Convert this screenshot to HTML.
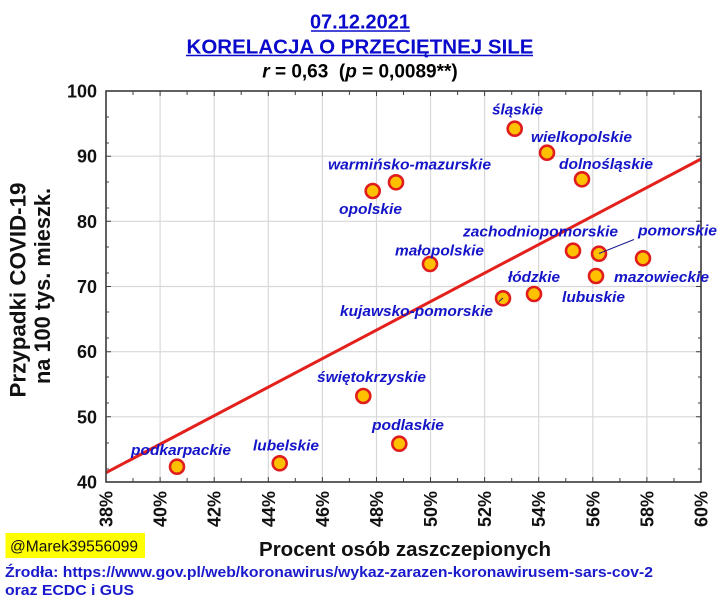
<!DOCTYPE html>
<html><head><meta charset="utf-8"><style>
html,body{margin:0;padding:0;background:#fff;}
svg{display:block;}
text{font-family:"Liberation Sans",Arial,sans-serif;}
</style></head><body>
<svg width="720" height="608" viewBox="0 0 720 608" xmlns="http://www.w3.org/2000/svg">
<rect width="720" height="608" fill="#fff"/>
<!-- Title -->
<text x="360" y="28.5" text-anchor="middle" font-size="20" font-weight="bold" fill="#0a0acc">07.12.2021</text>
<line x1="311" y1="31" x2="410" y2="31" stroke="#0a0acc" stroke-width="1.6"/>
<text x="360" y="53.5" text-anchor="middle" font-size="20" font-weight="bold" fill="#0a0acc" textLength="347" lengthAdjust="spacingAndGlyphs">KORELACJA O PRZECIĘTNEJ SILE</text>
<line x1="186" y1="55.5" x2="533" y2="55.5" stroke="#0a0acc" stroke-width="1.6"/>
<text x="360" y="77.5" text-anchor="middle" font-size="19" font-weight="bold" fill="#000"><tspan font-style="italic">r</tspan> = 0,63 &#160;(<tspan font-style="italic">p</tspan> = 0,0089**)</text>

<!-- grid -->
<g stroke="#d8d8d8" stroke-width="1.2">
<line x1="160.1" y1="91" x2="160.1" y2="482"/>
<line x1="214.2" y1="91" x2="214.2" y2="482"/>
<line x1="268.3" y1="91" x2="268.3" y2="482"/>
<line x1="322.4" y1="91" x2="322.4" y2="482"/>
<line x1="376.5" y1="91" x2="376.5" y2="482"/>
<line x1="430.5" y1="91" x2="430.5" y2="482"/>
<line x1="484.6" y1="91" x2="484.6" y2="482"/>
<line x1="538.7" y1="91" x2="538.7" y2="482"/>
<line x1="592.8" y1="91" x2="592.8" y2="482"/>
<line x1="646.9" y1="91" x2="646.9" y2="482"/>
<line x1="106" y1="156.2" x2="701" y2="156.2"/>
<line x1="106" y1="221.3" x2="701" y2="221.3"/>
<line x1="106" y1="286.5" x2="701" y2="286.5"/>
<line x1="106" y1="351.7" x2="701" y2="351.7"/>
<line x1="106" y1="416.8" x2="701" y2="416.8"/>
</g>

<!-- minor ticks -->
<g stroke="#404040" stroke-width="1">
<path d="M133 482v-4M187.1 482v-4M241.2 482v-4M295.3 482v-4M349.4 482v-4M403.5 482v-4M457.6 482v-4M511.7 482v-4M565.8 482v-4M619.9 482v-4M674 482v-4"/>
<path d="M133 91v4M187.1 91v4M241.2 91v4M295.3 91v4M349.4 91v4M403.5 91v4M457.6 91v4M511.7 91v4M565.8 91v4M619.9 91v4M674 91v4"/>
<path d="M160.1 482v-5M214.2 482v-5M268.3 482v-5M322.4 482v-5M376.5 482v-5M430.5 482v-5M484.6 482v-5M538.7 482v-5M592.8 482v-5M646.9 482v-5"/>
<path d="M160.1 91v5M214.2 91v5M268.3 91v5M322.4 91v5M376.5 91v5M430.5 91v5M484.6 91v5M538.7 91v5M592.8 91v5M646.9 91v5"/>
<path d="M106 117h3M106 143h3M106 182h3M106 208h3M106 247h3M106 273h3M106 312h3M106 338h3M106 377h3M106 403h3M106 443h3M106 469h3"/>
<path d="M701 117h-3M701 143h-3M701 182h-3M701 208h-3M701 247h-3M701 273h-3M701 312h-3M701 338h-3M701 377h-3M701 403h-3M701 443h-3M701 469h-3"/>
<path d="M106 156.2h5M106 221.3h5M106 286.5h5M106 351.7h5M106 416.8h5M701 156.2h-5M701 221.3h-5M701 286.5h-5M701 351.7h-5M701 416.8h-5"/>
</g>

<!-- regression line -->
<line x1="106" y1="472.7" x2="701" y2="159" stroke="#e3201c" stroke-width="3"/>

<!-- frame -->
<rect x="106" y="91" width="595" height="391" fill="none" stroke="#3a3a3a" stroke-width="1.6"/>

<!-- pointer lines -->
<line x1="599" y1="253.5" x2="634" y2="239.5" stroke="#1a1a90" stroke-width="1"/>
<line x1="503" y1="298" x2="497.5" y2="302.5" stroke="#202060" stroke-width="1"/>

<!-- points -->
<g fill="#ffc000" stroke="#e01c1c" stroke-width="2.6">
<circle cx="177" cy="466.7" r="7"/>
<circle cx="279.7" cy="463.3" r="7"/>
<circle cx="363.3" cy="396" r="7"/>
<circle cx="399.3" cy="443.7" r="7"/>
<circle cx="372.7" cy="191" r="7"/>
<circle cx="396" cy="182.3" r="7"/>
<circle cx="430" cy="264" r="7"/>
<circle cx="503" cy="298.3" r="7"/>
<circle cx="534" cy="294" r="7"/>
<circle cx="514.7" cy="128.7" r="7"/>
<circle cx="547" cy="152.7" r="7"/>
<circle cx="582" cy="179.3" r="7"/>
<circle cx="573" cy="250.7" r="7"/>
<circle cx="599" cy="253.7" r="7"/>
<circle cx="596" cy="276" r="7"/>
<circle cx="643" cy="258.3" r="7"/>
</g>
<line x1="599" y1="253.5" x2="606" y2="250.7" stroke="#1a1a90" stroke-width="1"/>
<line x1="503" y1="298" x2="499" y2="301.5" stroke="#202060" stroke-width="1"/>

<!-- point labels -->
<g font-size="15" font-weight="bold" font-style="italic" fill="#1414c8">
<text x="492" y="114.5" textLength="51" lengthAdjust="spacingAndGlyphs">śląskie</text>
<text x="531" y="142" textLength="101" lengthAdjust="spacingAndGlyphs">wielkopolskie</text>
<text x="559" y="169" textLength="94" lengthAdjust="spacingAndGlyphs">dolnośląskie</text>
<text x="463" y="236.5" textLength="155" lengthAdjust="spacingAndGlyphs">zachodniopomorskie</text>
<text x="638" y="235.5" textLength="79" lengthAdjust="spacingAndGlyphs">pomorskie</text>
<text x="614" y="282" textLength="95" lengthAdjust="spacingAndGlyphs">mazowieckie</text>
<text x="562" y="302" textLength="63" lengthAdjust="spacingAndGlyphs">lubuskie</text>
<text x="508" y="282" textLength="52" lengthAdjust="spacingAndGlyphs">łódzkie</text>
<text x="340" y="316" textLength="153" lengthAdjust="spacingAndGlyphs">kujawsko-pomorskie</text>
<text x="395" y="255.5" textLength="89" lengthAdjust="spacingAndGlyphs">małopolskie</text>
<text x="339" y="214" textLength="63" lengthAdjust="spacingAndGlyphs">opolskie</text>
<text x="328" y="169.5" textLength="163" lengthAdjust="spacingAndGlyphs">warmińsko-mazurskie</text>
<text x="317" y="382" textLength="109" lengthAdjust="spacingAndGlyphs">świętokrzyskie</text>
<text x="372" y="430" textLength="72" lengthAdjust="spacingAndGlyphs">podlaskie</text>
<text x="253" y="450.5" textLength="66" lengthAdjust="spacingAndGlyphs">lubelskie</text>
<text x="131" y="455" textLength="100" lengthAdjust="spacingAndGlyphs">podkarpackie</text>
</g>

<!-- y tick labels -->
<g font-size="18" font-weight="bold" fill="#111" text-anchor="end">
<text x="97" y="97.5">100</text>
<text x="97" y="162.7">90</text>
<text x="97" y="227.8">80</text>
<text x="97" y="293">70</text>
<text x="97" y="358.2">60</text>
<text x="97" y="423.3">50</text>
<text x="97" y="488.5">40</text>
</g>

<!-- x tick labels -->
<g font-size="18" font-weight="bold" fill="#111" text-anchor="end">
<text transform="translate(112.5,491) rotate(-90)">38%</text>
<text transform="translate(166.6,491) rotate(-90)">40%</text>
<text transform="translate(220.7,491) rotate(-90)">42%</text>
<text transform="translate(274.8,491) rotate(-90)">44%</text>
<text transform="translate(328.9,491) rotate(-90)">46%</text>
<text transform="translate(383,491) rotate(-90)">48%</text>
<text transform="translate(437,491) rotate(-90)">50%</text>
<text transform="translate(491.1,491) rotate(-90)">52%</text>
<text transform="translate(545.2,491) rotate(-90)">54%</text>
<text transform="translate(599.3,491) rotate(-90)">56%</text>
<text transform="translate(653.4,491) rotate(-90)">58%</text>
<text transform="translate(707.5,491) rotate(-90)">60%</text>
</g>

<!-- y axis title -->
<g font-size="22" font-weight="bold" fill="#111" text-anchor="middle">
<text transform="translate(25.5,290) rotate(-90)" textLength="215" lengthAdjust="spacingAndGlyphs">Przypadki COVID-19</text>
<text transform="translate(50,286) rotate(-90)" textLength="196" lengthAdjust="spacingAndGlyphs">na 100 tys. mieszk.</text>
</g>

<!-- x axis title -->
<text x="405" y="556" text-anchor="middle" font-size="20.5" font-weight="bold" fill="#111" textLength="292" lengthAdjust="spacingAndGlyphs">Procent osób zaszczepionych</text>

<!-- handle -->
<rect x="5.5" y="533" width="139.5" height="25" fill="#ffff00"/>
<text x="10" y="551.5" font-size="15.5" fill="#111" textLength="128" lengthAdjust="spacingAndGlyphs">@Marek39556099</text>

<!-- sources -->
<text x="5" y="577" font-size="15" font-weight="bold" fill="#1a1acc" textLength="648" lengthAdjust="spacingAndGlyphs">Źrodła: https://www.gov.pl/web/koronawirus/wykaz-zarazen-koronawirusem-sars-cov-2</text>
<text x="5" y="595" font-size="15" font-weight="bold" fill="#1a1acc" textLength="129" lengthAdjust="spacingAndGlyphs">oraz ECDC i GUS</text>
</svg>
</body></html>
